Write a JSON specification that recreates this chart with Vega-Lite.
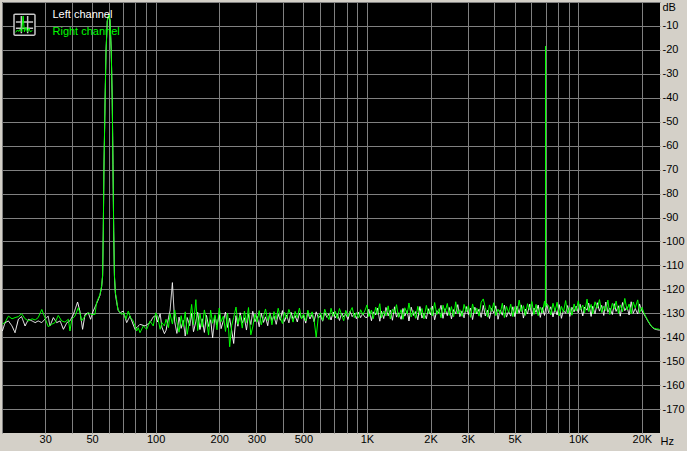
{
"$schema": "https://vega.github.io/schema/vega-lite/v6.json",
"width": 658, "height": 431,
"autosize": {"type": "none"},
"padding": {"left": 2, "top": 2, "right": 27, "bottom": 18},
"background": "#d4d0c8",
"config": {
 "view": {"fill": "#000000", "stroke": null},
 "axis": {"labelFont": "Liberation Sans", "titleFont": "Liberation Sans", "labelFontSize": 11, "titleFontSize": 11, "titleFontWeight": "normal", "labelColor": "#000000", "titleColor": "#000000", "gridColor": "#808080", "gridOpacity": 1, "gridWidth": 1, "domain": false, "ticks": false, "tickSize": 0, "labelOverlap": false, "labelFlush": false, "labelBound": false},
 "legend": {"labelFont": "Liberation Sans", "labelFontSize": 11}
},
"datasets": {
"left": [
{"f":18.8,"db":-137.4},{"f":19.4,"db":-133.9},{"f":20.1,"db":-133.2},{"f":20.9,"db":-135.3},{"f":21.6,"db":-138.1},{"f":22.4,"db":-132.5},{"f":23.2,"db":-131.4},{"f":24.1,"db":-135.3},{"f":25,"db":-132.5},{"f":26,"db":-133.2},{"f":26.9,"db":-133.9},{"f":27.8,"db":-133.2},{"f":28.9,"db":-133.9},{"f":29.9,"db":-132.5},{"f":31,"db":-131.2},{"f":31.6,"db":-135.3},{"f":32.8,"db":-131.8},{"f":34,"db":-133.9},{"f":35.3,"db":-133.2},{"f":36.6,"db":-136.7},{"f":38,"db":-133.9},{"f":39.3,"db":-133.2},{"f":40.8,"db":-130.5},{"f":42.7,"db":-125.3},{"f":43.8,"db":-129.1},{"f":45.1,"db":-136.7},{"f":46.3,"db":-130.5},{"f":48,"db":-129.8},{"f":49.2,"db":-132.5},{"f":50.6,"db":-129.1},{"f":52.5,"db":-126},{"f":54.5,"db":-122.5},{"f":55.5,"db":-119},{"f":56.1,"db":-114.5},{"f":56.5,"db":-96},{"f":56.9,"db":-70},{"f":57.6,"db":-42},{"f":58.2,"db":-21},{"f":59,"db":-8},{"f":60,"db":-5.2},{"f":60.8,"db":-7.5},{"f":61.6,"db":-20},{"f":62.3,"db":-41},{"f":62.8,"db":-68},{"f":63.3,"db":-96},{"f":63.8,"db":-114.5},{"f":64.5,"db":-122},{"f":65.4,"db":-125.5},{"f":66.5,"db":-128.8},{"f":67.8,"db":-129.8},{"f":70.2,"db":-129.1},{"f":72.9,"db":-133.9},{"f":75.6,"db":-131.2},{"f":79.8,"db":-136.7},{"f":84.3,"db":-134.6},{"f":89,"db":-135.3},{"f":94,"db":-133.9},{"f":97.4,"db":-131.5},
{"f":100,"db":-131.0},{"f":102,"db":-133.6},{"f":105,"db":-130.2},{"f":107,"db":-135.8},{"f":110,"db":-138.5},{"f":112,"db":-137.1},{"f":115,"db":-131.9},{"f":117,"db":-128.8},{"f":120,"db":-117.2},{"f":123,"db":-133.5},
{"f":126,"db":-138.4},{"f":129,"db":-131.6},{"f":132,"db":-136.3},{"f":135,"db":-133.0},{"f":138,"db":-139.5},{"f":141,"db":-131.8},{"f":145,"db":-135.2},{"f":148,"db":-130.1},{"f":151,"db":-137.7},{"f":155,"db":-133.4},
{"f":158,"db":-129.6},{"f":162,"db":-136.8},{"f":166,"db":-132.3},{"f":170,"db":-138.0},{"f":174,"db":-130.9},{"f":178,"db":-135.5},{"f":182,"db":-132.7},{"f":186,"db":-140.2},{"f":191,"db":-131.4},{"f":195,"db":-134.9},
{"f":200,"db":-130.6},{"f":204,"db":-136.4},{"f":209,"db":-133.2},{"f":214,"db":-129.5},{"f":219,"db":-135.9},{"f":224,"db":-132.1},{"f":229,"db":-137.3},{"f":234,"db":-142.6},{"f":240,"db":-131.0},{"f":245,"db":-135.4},
{"f":251,"db":-129.8},{"f":257,"db":-134.1},{"f":263,"db":-131.9},{"f":269,"db":-137.0},{"f":275,"db":-130.4},{"f":282,"db":-134.7},{"f":288,"db":-129.2},{"f":295,"db":-133.5},{"f":302,"db":-131.3},{"f":309,"db":-135.6},
{"f":316,"db":-130.0},{"f":324,"db":-133.8},{"f":331,"db":-131.5},{"f":339,"db":-135.2},{"f":347,"db":-129.8},{"f":355,"db":-133.0},{"f":363,"db":-131.2},{"f":372,"db":-134.6},{"f":380,"db":-130.4},{"f":389,"db":-132.9},
{"f":398,"db":-128.9},{"f":407,"db":-133.4},{"f":417,"db":-130.7},{"f":427,"db":-134.0},{"f":437,"db":-129.6},{"f":447,"db":-132.5},{"f":457,"db":-131.0},{"f":468,"db":-133.6},{"f":479,"db":-129.9},{"f":490,"db":-132.2},
{"f":501,"db":-130.8},{"f":513,"db":-134.1},{"f":525,"db":-129.7},{"f":537,"db":-132.4},{"f":550,"db":-130.5},{"f":562,"db":-133.5},{"f":575,"db":-129.4},{"f":589,"db":-132.0},{"f":603,"db":-130.9},{"f":617,"db":-133.3},
{"f":631,"db":-129.8},{"f":646,"db":-131.7},{"f":661,"db":-130.2},{"f":676,"db":-132.8},{"f":692,"db":-129.5},{"f":708,"db":-131.9},{"f":724,"db":-130.3},{"f":741,"db":-133.0},{"f":759,"db":-129.9},{"f":776,"db":-131.5},
{"f":794,"db":-130.4},{"f":813,"db":-132.6},{"f":832,"db":-129.2},{"f":851,"db":-131.4},{"f":871,"db":-130.0},{"f":891,"db":-132.3},{"f":912,"db":-129.6},{"f":933,"db":-131.8},{"f":955,"db":-130.1},{"f":977,"db":-131.6},
{"f":1000,"db":-131.8},{"f":1020,"db":-128.3},{"f":1050,"db":-133.1},{"f":1070,"db":-129.4},{"f":1100,"db":-130.7},{"f":1120,"db":-127.8},{"f":1150,"db":-133.3},{"f":1170,"db":-129.1},{"f":1200,"db":-132.2},{"f":1230,"db":-127.6},
{"f":1260,"db":-131.1},{"f":1290,"db":-128.7},{"f":1320,"db":-132.9},{"f":1350,"db":-127.3},{"f":1380,"db":-131.6},{"f":1410,"db":-129.8},{"f":1450,"db":-132.5},{"f":1480,"db":-128.0},{"f":1510,"db":-131.2},{"f":1550,"db":-128.9},
{"f":1580,"db":-133.2},{"f":1620,"db":-127.5},{"f":1660,"db":-130.9},{"f":1700,"db":-129.3},{"f":1740,"db":-132.7},{"f":1780,"db":-127.2},{"f":1820,"db":-132.0},{"f":1860,"db":-130.0},{"f":1910,"db":-132.3},{"f":1950,"db":-128.1},
{"f":2000,"db":-130.7},{"f":2040,"db":-127.0},{"f":2090,"db":-132.7},{"f":2140,"db":-128.9},{"f":2190,"db":-129.8},{"f":2240,"db":-126.7},{"f":2290,"db":-132.1},{"f":2340,"db":-128.1},{"f":2400,"db":-131.0},{"f":2450,"db":-127.6},
{"f":2510,"db":-132.3},{"f":2570,"db":-128.5},{"f":2630,"db":-130.1},{"f":2690,"db":-126.4},{"f":2750,"db":-131.4},{"f":2820,"db":-129.0},{"f":2880,"db":-131.9},{"f":2950,"db":-127.2},{"f":3020,"db":-130.6},{"f":3090,"db":-127.8},
{"f":3160,"db":-132.6},{"f":3240,"db":-127.5},{"f":3310,"db":-130.3},{"f":3390,"db":-128.3},{"f":3470,"db":-131.7},{"f":3550,"db":-126.7},{"f":3630,"db":-131.1},{"f":3720,"db":-128.8},{"f":3800,"db":-132.2},{"f":3890,"db":-128.0},
{"f":3980,"db":-129.9},{"f":4070,"db":-126.9},{"f":4170,"db":-132.5},{"f":4270,"db":-128.6},{"f":4370,"db":-130.8},{"f":4470,"db":-126.6},{"f":4570,"db":-131.6},{"f":4680,"db":-129.2},{"f":4790,"db":-131.2},{"f":4900,"db":-127.3},
{"f":5010,"db":-131.4},{"f":5130,"db":-127.1},{"f":5250,"db":-129.9},{"f":5370,"db":-126.5},{"f":5500,"db":-132.0},{"f":5620,"db":-128.3},{"f":5750,"db":-130.3},{"f":5890,"db":-126.2},{"f":6030,"db":-131.2},{"f":6170,"db":-127.8},
{"f":6310,"db":-129.6},{"f":6460,"db":-126.6},{"f":6610,"db":-131.7},{"f":6760,"db":-127.6},{"f":6920,"db":-130.9},{"f":7080,"db":-125.9},{"f":7240,"db":-129.8},{"f":7410,"db":-127.3},{"f":7590,"db":-131.5},{"f":7760,"db":-128.1},
{"f":7940,"db":-130.7},{"f":8130,"db":-126.4},{"f":8320,"db":-132.1},{"f":8510,"db":-128.8},{"f":8710,"db":-130.0},{"f":8910,"db":-126.8},{"f":9120,"db":-131.3},{"f":9330,"db":-127.5},{"f":9550,"db":-129.4},{"f":9770,"db":-127.0},
{"f":10000,"db":-129.8},{"f":10200,"db":-126.3},{"f":10500,"db":-131.1},{"f":10700,"db":-127.4},{"f":11000,"db":-128.7},{"f":11200,"db":-125.8},{"f":11500,"db":-131.3},{"f":11700,"db":-127.1},{"f":12000,"db":-130.2},{"f":12300,"db":-125.6},
{"f":12600,"db":-129.1},{"f":12900,"db":-126.7},{"f":13200,"db":-130.9},{"f":13500,"db":-125.3},{"f":13800,"db":-129.6},{"f":14100,"db":-127.8},{"f":14500,"db":-130.5},{"f":14800,"db":-126.0},{"f":15100,"db":-129.2},{"f":15500,"db":-126.9},
{"f":15800,"db":-131.2},{"f":16200,"db":-125.5},{"f":16600,"db":-128.9},{"f":17000,"db":-127.3},{"f":17400,"db":-130.7},{"f":17800,"db":-125.2},{"f":18200,"db":-130.0},{"f":18600,"db":-128.0},{"f":19100,"db":-130.3},{"f":19500,"db":-126.1},
{"f":20000,"db":-129.0},{"f":20400,"db":-130.2},{"f":20900,"db":-131.8},{"f":21400,"db":-133.4},{"f":21900,"db":-134.8},{"f":22400,"db":-135.9},{"f":22900,"db":-136.5},{"f":23400,"db":-136.8},{"f":24000,"db":-137.0},{"f":24300,"db":-137.1}
],
"right": [
{"f":18.8,"db":-134.6},{"f":19.4,"db":-133.7},{"f":20.1,"db":-131.2},{"f":20.9,"db":-132.3},{"f":21.6,"db":-131.8},{"f":22.4,"db":-131.4},{"f":23.2,"db":-130.2},{"f":24.1,"db":-132.3},{"f":25,"db":-133.2},{"f":26,"db":-132.3},{"f":26.9,"db":-132.8},{"f":27.8,"db":-131.8},{"f":28.9,"db":-128.4},{"f":29.9,"db":-131.8},{"f":31,"db":-135.6},{"f":32.2,"db":-134.6},{"f":33.4,"db":-133.9},{"f":34.6,"db":-130.9},{"f":35.9,"db":-133.2},{"f":37.2,"db":-133.7},{"f":38.6,"db":-132.5},{"f":39.3,"db":-137.4},{"f":40.1,"db":-132.5},{"f":41.5,"db":-131.2},{"f":43,"db":-127.7},{"f":43.8,"db":-129.8},{"f":44.6,"db":-133.2},{"f":46.3,"db":-131.2},{"f":48,"db":-129.8},{"f":49.8,"db":-130.5},{"f":51.6,"db":-130.5},{"f":52.5,"db":-125.6},{"f":54.5,"db":-122.1},{"f":55.5,"db":-118.5},{"f":56.1,"db":-114},{"f":56.5,"db":-96},{"f":56.9,"db":-70},{"f":57.6,"db":-42},{"f":58.2,"db":-21},{"f":59,"db":-8},{"f":60,"db":-5.2},{"f":60.8,"db":-7.5},{"f":61.6,"db":-20},{"f":62.3,"db":-41},{"f":62.8,"db":-68},{"f":63.3,"db":-96},{"f":63.8,"db":-114},{"f":64.5,"db":-121.5},{"f":65.4,"db":-124.5},{"f":66.2,"db":-128.4},{"f":67.2,"db":-129.1},{"f":69,"db":-130.5},{"f":70.8,"db":-129.8},{"f":72.3,"db":-132.5},{"f":74.2,"db":-129.1},{"f":76.1,"db":-131.8},{"f":78.3,"db":-133.2},{"f":81.3,"db":-137.4},{"f":82.7,"db":-136.0},{"f":84.3,"db":-138.1},{"f":87.4,"db":-135.3},{"f":90.7,"db":-136.7},{"f":94,"db":-133.2},{"f":97.4,"db":-135.3},
{"f":100,"db":-129.8},{"f":102,"db":-131.2},{"f":105,"db":-136.7},{"f":107,"db":-133.9},{"f":110,"db":-135.3},{"f":112,"db":-132.5},{"f":115,"db":-136.0},{"f":117,"db":-130.2},{"f":120,"db":-134.5},{"f":123,"db":-128.6},
{"f":126,"db":-133.8},{"f":129,"db":-137.9},{"f":132,"db":-131.0},{"f":135,"db":-135.6},{"f":138,"db":-129.4},{"f":141,"db":-138.8},{"f":145,"db":-132.7},{"f":148,"db":-126.3},{"f":151,"db":-134.9},{"f":155,"db":-124.3},
{"f":158,"db":-137.2},{"f":162,"db":-130.1},{"f":166,"db":-135.8},{"f":170,"db":-128.6},{"f":174,"db":-133.0},{"f":178,"db":-139.1},{"f":182,"db":-128.7},{"f":186,"db":-134.2},{"f":191,"db":-130.6},{"f":195,"db":-136.9},
{"f":200,"db":-127.8},{"f":204,"db":-133.5},{"f":209,"db":-131.2},{"f":214,"db":-137.6},{"f":219,"db":-129.9},{"f":224,"db":-144.0},{"f":229,"db":-135.1},{"f":234,"db":-131.7},{"f":240,"db":-127.4},{"f":245,"db":-134.6},
{"f":251,"db":-130.8},{"f":257,"db":-136.2},{"f":263,"db":-129.1},{"f":269,"db":-133.9},{"f":275,"db":-127.6},{"f":282,"db":-139.0},{"f":288,"db":-135.7},{"f":295,"db":-130.3},{"f":302,"db":-133.6},{"f":309,"db":-128.9},
{"f":316,"db":-134.8},{"f":324,"db":-131.4},{"f":331,"db":-128.2},{"f":339,"db":-133.1},{"f":347,"db":-130.0},{"f":355,"db":-134.8},{"f":363,"db":-129.3},{"f":372,"db":-132.6},{"f":380,"db":-127.9},{"f":389,"db":-131.8},
{"f":398,"db":-134.3},{"f":407,"db":-129.6},{"f":417,"db":-132.1},{"f":427,"db":-128.4},{"f":437,"db":-131.0},{"f":447,"db":-133.7},{"f":457,"db":-129.2},{"f":468,"db":-131.9},{"f":479,"db":-127.8},{"f":490,"db":-132.4},
{"f":501,"db":-130.3},{"f":513,"db":-133.2},{"f":525,"db":-128.7},{"f":537,"db":-131.5},{"f":550,"db":-129.4},{"f":562,"db":-132.9},{"f":575,"db":-140.0},{"f":589,"db":-131.1},{"f":603,"db":-129.8},{"f":617,"db":-133.0},
{"f":631,"db":-128.3},{"f":646,"db":-130.9},{"f":661,"db":-132.6},{"f":676,"db":-127.9},{"f":692,"db":-131.3},{"f":708,"db":-129.1},{"f":724,"db":-132.2},{"f":741,"db":-128.0},{"f":759,"db":-130.7},{"f":776,"db":-133.1},
{"f":794,"db":-128.8},{"f":813,"db":-131.4},{"f":832,"db":-129.3},{"f":851,"db":-127.6},{"f":871,"db":-131.8},{"f":891,"db":-129.7},{"f":912,"db":-132.0},{"f":933,"db":-128.5},{"f":955,"db":-130.6},{"f":977,"db":-129.0},
{"f":1000,"db":-126.5},{"f":1020,"db":-131.4},{"f":1050,"db":-128.7},{"f":1070,"db":-132.3},{"f":1100,"db":-127.4},{"f":1120,"db":-130.5},{"f":1150,"db":-126.0},{"f":1170,"db":-131.9},{"f":1200,"db":-129.1},{"f":1230,"db":-131.1},
{"f":1260,"db":-126.9},{"f":1290,"db":-132.4},{"f":1320,"db":-128.2},{"f":1350,"db":-130.0},{"f":1380,"db":-126.4},{"f":1410,"db":-131.7},{"f":1450,"db":-128.5},{"f":1480,"db":-132.5},{"f":1510,"db":-127.7},{"f":1550,"db":-130.3},
{"f":1580,"db":-125.7},{"f":1620,"db":-131.5},{"f":1660,"db":-128.9},{"f":1700,"db":-132.1},{"f":1740,"db":-127.1},{"f":1780,"db":-130.8},{"f":1820,"db":-128.0},{"f":1860,"db":-132.3},{"f":1910,"db":-126.7},{"f":1950,"db":-130.2},
{"f":2000,"db":-127.7},{"f":2040,"db":-131.1},{"f":2090,"db":-125.5},{"f":2140,"db":-130.5},{"f":2190,"db":-128.1},{"f":2240,"db":-131.9},{"f":2290,"db":-126.6},{"f":2340,"db":-129.7},{"f":2400,"db":-125.9},{"f":2450,"db":-130.9},
{"f":2510,"db":-127.2},{"f":2570,"db":-131.5},{"f":2630,"db":-125.2},{"f":2690,"db":-130.2},{"f":2750,"db":-128.5},{"f":2820,"db":-131.3},{"f":2880,"db":-126.3},{"f":2950,"db":-129.4},{"f":3020,"db":-126.8},{"f":3090,"db":-131.7},
{"f":3160,"db":-126.1},{"f":3240,"db":-130.0},{"f":3310,"db":-127.9},{"f":3390,"db":-131.2},{"f":3470,"db":-125.4},{"f":3550,"db":-124.0},{"f":3630,"db":-127.6},{"f":3720,"db":-131.6},{"f":3800,"db":-126.5},{"f":3890,"db":-129.2},
{"f":3980,"db":-125.6},{"f":4070,"db":-131.0},{"f":4170,"db":-128.3},{"f":4270,"db":-130.3},{"f":4370,"db":-125.8},{"f":4470,"db":-131.8},{"f":4570,"db":-127.1},{"f":4680,"db":-129.6},{"f":4790,"db":-126.2},{"f":4900,"db":-131.4},
{"f":5010,"db":-127.2},{"f":5130,"db":-130.1},{"f":5250,"db":-124.5},{"f":5370,"db":-129.3},{"f":5500,"db":-126.8},{"f":5620,"db":-130.9},{"f":5750,"db":-126.0},{"f":5890,"db":-128.5},{"f":6030,"db":-125.1},{"f":6170,"db":-130.5},
{"f":6310,"db":-126.3},{"f":6460,"db":-131.0},{"f":6610,"db":-127.4},{"f":6760,"db":-129.9},{"f":6920,"db":-124.9},{"f":6985,"db":-127.5},{"f":6995,"db":-97.7},{"f":7000,"db":-18.4},{"f":7005,"db":-127},{"f":7080,"db":-126.0},{"f":7240,"db":-126.9},{"f":7410,"db":-130.7},{"f":7590,"db":-125.8},{"f":7760,"db":-129.2},
{"f":7940,"db":-125.4},{"f":8130,"db":-131.1},{"f":8320,"db":-127.1},{"f":8510,"db":-129.5},{"f":8710,"db":-124.7},{"f":8910,"db":-130.0},{"f":9120,"db":-127.6},{"f":9330,"db":-130.8},{"f":9550,"db":-126.1},{"f":9770,"db":-129.1},
{"f":10000,"db":-124.8},{"f":10200,"db":-128.7},{"f":10500,"db":-126.6},{"f":10700,"db":-129.9},{"f":11000,"db":-124.1},{"f":11200,"db":-129.3},{"f":11500,"db":-126.3},{"f":11700,"db":-130.3},{"f":12000,"db":-125.2},{"f":12300,"db":-127.9},
{"f":12600,"db":-124.3},{"f":12900,"db":-129.7},{"f":13200,"db":-127.0},{"f":13500,"db":-129.0},{"f":13800,"db":-124.5},{"f":14100,"db":-130.5},{"f":14500,"db":-125.8},{"f":14800,"db":-128.3},{"f":15100,"db":-124.9},{"f":15500,"db":-130.1},
{"f":15800,"db":-126.5},{"f":16200,"db":-129.4},{"f":16600,"db":-123.8},{"f":17000,"db":-128.6},{"f":17400,"db":-126.1},{"f":17800,"db":-130.2},{"f":18200,"db":-125.3},{"f":18600,"db":-127.8},{"f":19100,"db":-124.4},{"f":19500,"db":-129.8},
{"f":20000,"db":-127.5},{"f":20400,"db":-129.6},{"f":20900,"db":-131.5},{"f":21400,"db":-133.2},{"f":21900,"db":-134.6},{"f":22400,"db":-135.8},{"f":22900,"db":-136.3},{"f":23400,"db":-136.5},{"f":24000,"db":-136.6},{"f":24300,"db":-136.8}
]
},
"encoding": {
 "x": {"field": "f", "type": "quantitative",
  "scale": {"type": "log", "domain": [18.74, 24360], "nice": false},
  "axis": {"values": [18.74,30,40,50,60,70,80,90,100,200,300,400,500,600,700,800,900,1000,2000,3000,4000,5000,6000,7000,8000,9000,10000,20000],
   "labelExpr": "indexof([30,50,100,200,300,500,1000,2000,3000,5000,10000,20000], datum.value) >= 0 ? (datum.value >= 1000 ? (datum.value/1000) + 'K' : '' + datum.value) : ''",
   "labelBaseline": "middle", "labelPadding": 6,
   "title": "Hz", "titleX": 664.7, "titleY": 8, "titleAlign": "center", "titleBaseline": "middle", "titleAngle": 0}},
 "y": {"field": "db", "type": "quantitative",
  "scale": {"domain": [-180, 0], "nice": false, "zero": false},
  "axis": {"orient": "right", "values": [0,-10,-20,-30,-40,-50,-60,-70,-80,-90,-100,-110,-120,-130,-140,-150,-160,-170],
   "labelExpr": "datum.value == 0 ? '' : '' + datum.value",
   "labelAlign": "left", "labelBaseline": "middle", "labelPadding": 2,
   "title": "dB", "titleX": 2, "titleY": 5, "titleAlign": "left", "titleBaseline": "middle", "titleAngle": 0}}
},
"layer": [
 {"data": {"name": "left"},
  "mark": {"type": "line", "strokeWidth": 1, "clip": true},
  "encoding": {
   "color": {"datum": "Left channel", "type": "nominal",
    "scale": {"domain": ["Left channel", "Right channel"], "range": ["#ffffff", "#00ff00"]},
    "legend": {"orient": "none", "legendX": 39.5, "legendY": 7, "title": null, "padding": 0, "symbolSize": 0, "symbolOpacity": 0, "symbolStrokeWidth": 0, "labelOffset": 0, "rowPadding": 5,
     "encode": {"labels": {"update": {"fill": {"signal": "datum.label === 'Left channel' ? '#ffffff' : '#00ff00'"}}}}}},
   "strokeDash": {"datum": "icon", "type": "nominal", "scale": {"range": [[1, 0]]},
    "legend": {"orient": "none", "legendX": 11, "legendY": 11.2, "title": null, "padding": 0, "labelExpr": "''", "labelOffset": 0,
     "symbolType": "M-0.88,-1H0.88Q1,-1 1,-0.88V0.88Q1,1 0.88,1H-0.88Q-1,1 -1,0.88V-0.88Q-1,-1 -0.88,-1ZM-0.3,-0.82V0.82M0.3,-0.82V0.82M-0.82,-0.25H0.82M-0.82,0.35H0.82",
     "symbolSize": 440, "symbolFillColor": "#000000", "symbolStrokeColor": "#c8c8c8", "symbolStrokeWidth": 1.5, "symbolOpacity": 1,
     "encode": {"symbols": {"update": {"fill": {"value": "#000000"}, "stroke": {"value": "#c8c8c8"}, "opacity": {"value": 1}, "strokeWidth": {"value": 1.5}, "strokeDash": {"value": [1, 0]}}}}}},
   "opacity": {"datum": "spectrum", "type": "nominal", "scale": {"range": [1]},
    "legend": {"orient": "none", "legendX": 11, "legendY": 11.2, "title": null, "padding": 0, "labelExpr": "''", "labelOffset": 0,
     "symbolType": "M-0.8,0.78L-0.62,0.55L-0.5,0.7L-0.35,0.45L-0.22,0.72L-0.08,-0.78L0.04,0.72L0.2,0.3L0.32,0.72L0.48,0.4L0.6,0.72L0.8,0.6",
     "symbolSize": 440, "symbolFillColor": "transparent", "symbolStrokeColor": "#00ff00", "symbolStrokeWidth": 1, "symbolOpacity": 1,
     "encode": {"symbols": {"update": {"fill": {"value": "transparent"}, "stroke": {"value": "#00ff00"}, "opacity": {"value": 1}, "strokeWidth": {"value": 1}}}}}}
  }},
 {"data": {"name": "right"},
  "mark": {"type": "line", "strokeWidth": 1, "clip": true},
  "encoding": {"color": {"datum": "Right channel", "type": "nominal"}}}
]
}
